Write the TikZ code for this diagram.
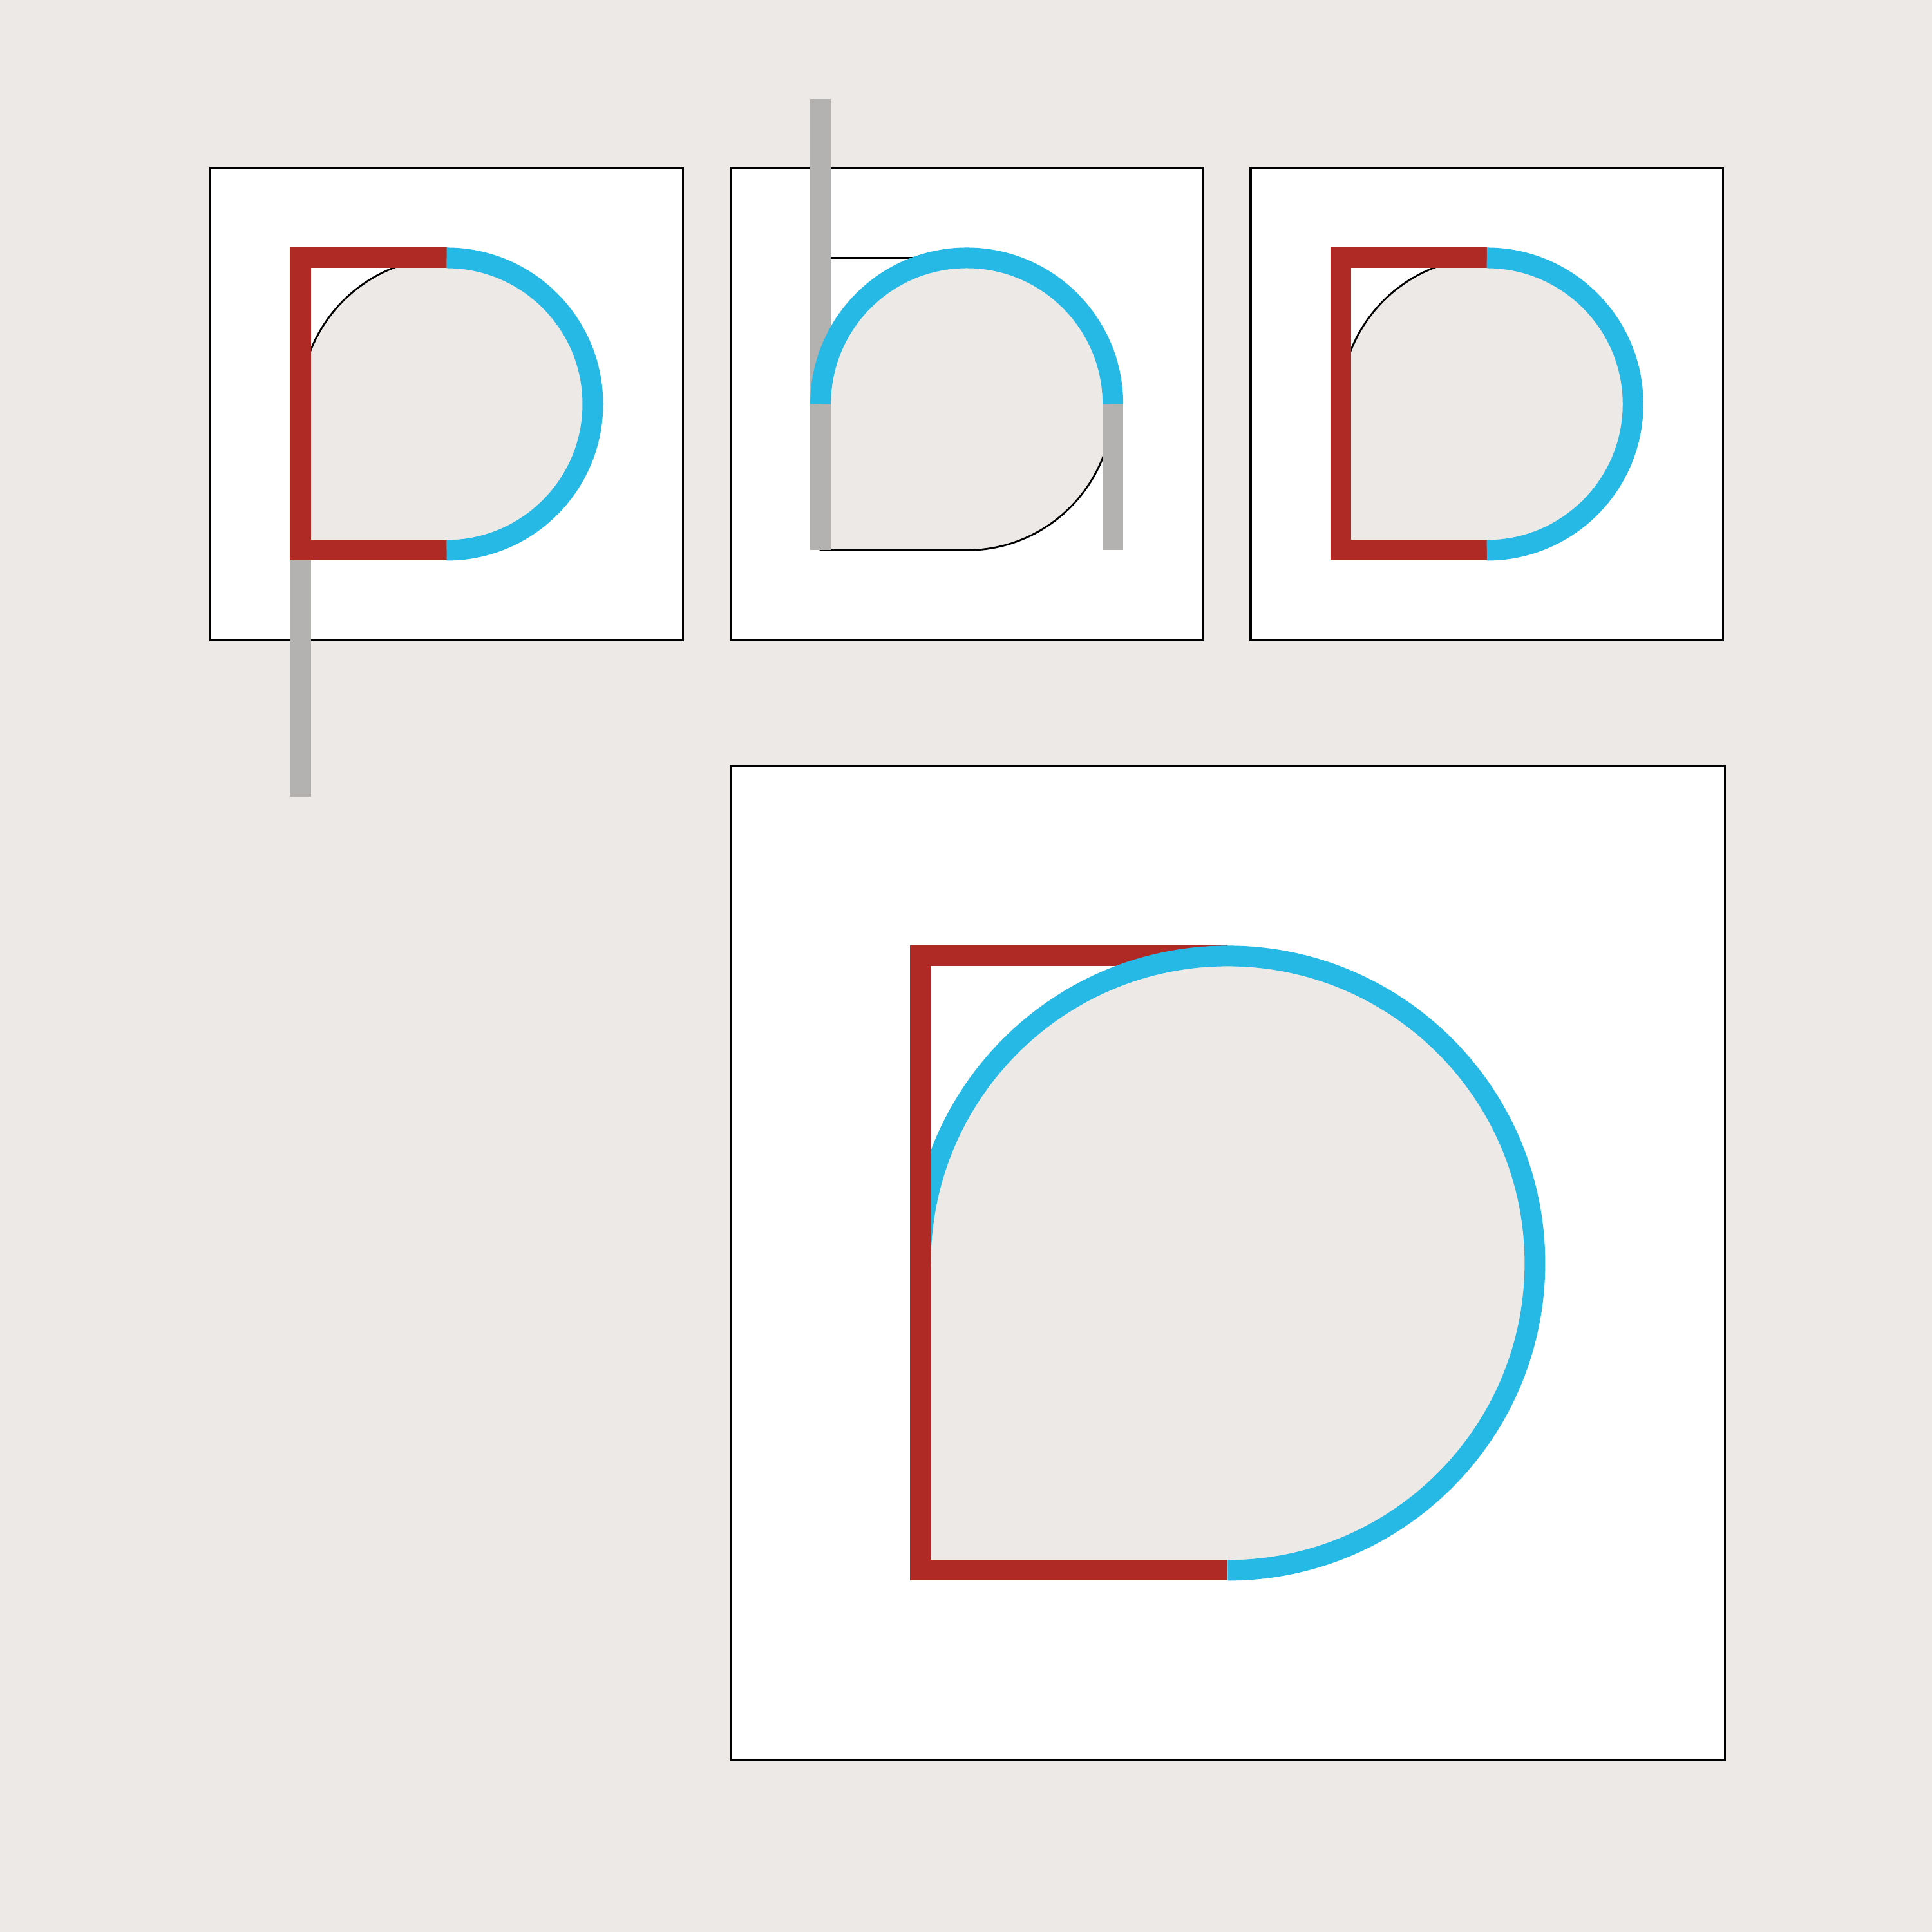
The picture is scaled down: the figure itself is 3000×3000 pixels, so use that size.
\documentclass[tikz,border=0pt]{standalone}
\usetikzlibrary{positioning}

\definecolor{paper}{RGB}{236,233,230}
\definecolor{strokered}{RGB}{176,42,37}
\definecolor{strokeblue}{RGB}{39,185,230}
\definecolor{stemgray}{RGB}{180,177,177}

\begin{document}
\begin{tikzpicture}[
    x=0.01cm, y=0.01cm,
    frame/.style={
        rectangle,
        draw=black,
        fill=white,
        line width=0.9pt,
        minimum size=7.33cm,
        inner sep=0pt,
    },
    bigframe/.style={
        frame,
        minimum size=15.43cm,
    },
    bowl/.style={
        fill=paper,
    },
    guide/.style={
        draw=black,
        line width=0.8pt,
    },
    redstroke/.style={
        draw=strokered,
        line width=0.32cm,
        line join=miter,
    },
    bluestroke/.style={
        draw=strokeblue,
        line width=0.32cm,
    },
    stem/.style={
        draw=stemgray,
        line width=0.32cm,
    }
]
    % Background
    \fill[paper] (0,0) rectangle (3000,3000);
    \useasboundingbox (0,0) rectangle (3000,3000);

    % Frames
    \node[frame] (box1) at (693.5,2372.5) {};
    \node[frame, right=0.71cm of box1] (box2) {};
    \node[frame, right=0.71cm of box2] (box3) {};
    \node[bigframe, below right=1.92cm and 0cm of box2.south west] (box4) {};

    % Bowls with guide
    \foreach \b in {box1,box3}{
        \begin{scope}[shift={(\b.center)}]
            \path[bowl, guide] (0,227) arc[start angle=90, end angle=180, radius=227]
                -- (-227,-227) -- (0,-227)
                arc[start angle=-90, end angle=90, radius=227] -- cycle;
        \end{scope}
    }

    % Descender of p
    \begin{scope}[shift={(box1.center)}]
        \draw[stem] (-227,-227) -- (-227,-610);
    \end{scope}

    % Red and blue strokes
    \foreach \b in {box1,box3}{
        \begin{scope}[shift={(\b.center)}]
            \draw[redstroke] (0,227) -- (-227,227) -- (-227,-227) -- (0,-227);
            \draw[bluestroke] (0,-227) arc[start angle=-90, end angle=90, radius=227];
        \end{scope}
    }

    % Middle letter
    \begin{scope}[shift={(box2.center)}]
        \fill[bowl] (0,227) arc[start angle=90, end angle=180, radius=227]
            -- (-227,-227) -- (0,-227)
            arc[start angle=-90, end angle=90, radius=227] -- cycle;
        \draw[guide] (0,227) -- (-227,227) -- (-227,-227) -- (0,-227)
            arc[start angle=-90, end angle=90, radius=227];
        \draw[stem] (-227,-227) -- (-227,473);
        \draw[stem] (227,0) -- (227,-227);
        \draw[bluestroke] (-227,0) arc[start angle=180, end angle=0, radius=227];
    \end{scope}

    % Large letter
    \begin{scope}[shift={(box4.center)}]
        \fill[bowl] (0,477) arc[start angle=90, end angle=180, radius=477]
            -- (-477,-477) -- (0,-477)
            arc[start angle=-90, end angle=90, radius=477] -- cycle;
        \draw[redstroke] (0,477) -- (-477,477) -- (-477,-477) -- (0,-477);
        \draw[bluestroke] (0,-477) arc[start angle=-90, end angle=180, radius=477];
        \draw[redstroke, line cap=rect] (-477,477) -- (-477,-477);
    \end{scope}
\end{tikzpicture}
\end{document}
